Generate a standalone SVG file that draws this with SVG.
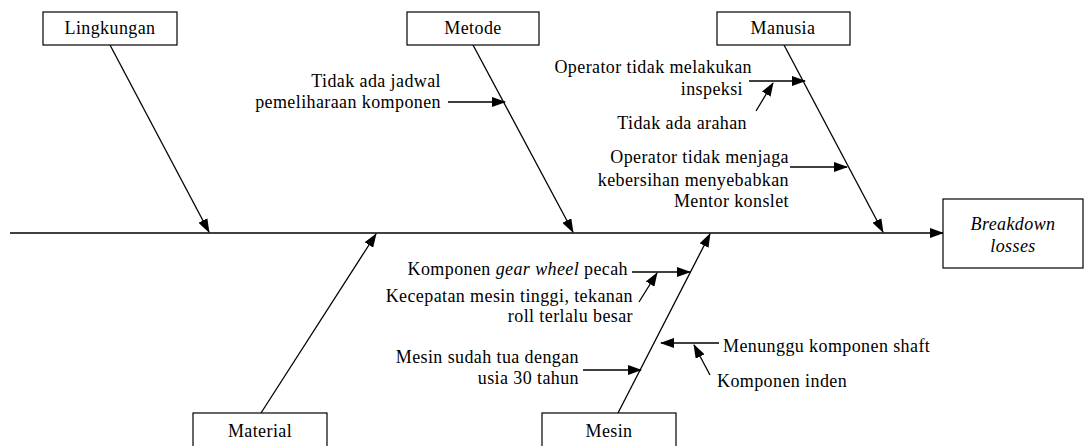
<svg xmlns="http://www.w3.org/2000/svg" width="1085" height="446" viewBox="0 0 1085 446">
<style>
text{font-family:'Liberation Serif','DejaVu Serif',serif;font-size:18px;letter-spacing:0.4px;fill:#000}
.box{fill:#fff;stroke:#000;stroke-width:1.2}
.c{text-anchor:middle}
.e{text-anchor:end}
.ln{stroke:#000;stroke-width:1.3;fill:none;marker-end:url(#ah)}
.spine{stroke:#404040;stroke-width:2;fill:none;marker-end:url(#ah)}
</style>
<defs>
<marker id="ah" markerUnits="userSpaceOnUse" markerWidth="14" markerHeight="10" refX="13" refY="5" orient="auto">
<path d="M0,0 L14,5 L0,10 Z" fill="#000"/>
</marker>
</defs>
<g id="connectors">
<line class="spine" x1="10" y1="233" x2="943" y2="233"/>
<line class="ln" x1="110" y1="45" x2="209" y2="232"/>
<line class="ln" x1="473" y1="45" x2="573" y2="232"/>
<line class="ln" x1="784" y1="45" x2="883" y2="232"/>
<line class="ln" x1="261" y1="413" x2="376" y2="234"/>
<line class="ln" x1="618" y1="413" x2="710" y2="234"/>
<line class="ln" x1="448" y1="102" x2="505" y2="102"/>
<line class="ln" x1="749" y1="81" x2="805" y2="81"/>
<line class="ln" x1="756" y1="111" x2="773" y2="83"/>
<line class="ln" x1="790" y1="167" x2="847" y2="167"/>
<line class="ln" x1="632" y1="272" x2="690" y2="272"/>
<line class="ln" x1="639" y1="302" x2="657" y2="273"/>
<line class="ln" x1="583" y1="370" x2="641" y2="370"/>
<line class="ln" x1="719" y1="343" x2="661" y2="343"/>
<line class="ln" x1="710" y1="375" x2="694" y2="345"/>
</g>
<g id="lingkungan"><rect class="box" x="43" y="12" width="134" height="33"/><text class="c" x="110" y="34" font-family="Liberation Serif">Lingkungan</text></g>
<g id="metode"><rect class="box" x="407" y="12" width="132" height="33"/><text class="c" x="473" y="34">Metode</text></g>
<g id="manusia"><rect class="box" x="717" y="12" width="133" height="33"/><text class="c" x="783" y="34">Manusia</text></g>
<g id="material"><rect class="box" x="193" y="413" width="134" height="36"/><text class="c" x="260" y="437">Material</text></g>
<g id="mesin"><rect class="box" x="542" y="413" width="134" height="36"/><text class="c" x="609" y="437">Mesin</text></g>
<g id="breakdown"><rect class="box" x="943" y="199" width="140" height="69"/><text class="c" x="1013" y="230" font-style="italic">Breakdown</text><text class="c" x="1013" y="252" font-style="italic">losses</text></g>
<g id="metode-causes">
<text class="e" x="441" y="87">Tidak ada jadwal</text>
<text class="e" x="441" y="108">pemeliharaan komponen</text>
</g>
<g id="manusia-causes">
<text class="e" x="752" y="73">Operator tidak melakukan</text>
<text class="e" x="743" y="95">inspeksi</text>
<text class="e" x="747" y="129">Tidak ada arahan</text>
<text class="e" x="789" y="163">Operator tidak menjaga</text>
<text class="e" x="789" y="186">kebersihan menyebabkan</text>
<text class="e" x="789" y="207">Mentor konslet</text>
</g>
<g id="mesin-causes">
<text class="e" x="628" y="275">Komponen <tspan font-style="italic">gear wheel</tspan> pecah</text>
<text class="e" x="633" y="302">Kecepatan mesin tinggi, tekanan</text>
<text class="e" x="633" y="322">roll terlalu besar</text>
<text class="e" x="579" y="363">Mesin sudah tua dengan</text>
<text class="e" x="579" y="384">usia 30 tahun</text>
<text x="723" y="352">Menunggu komponen shaft</text>
<text x="717" y="387">Komponen inden</text>
</g>
</svg>
